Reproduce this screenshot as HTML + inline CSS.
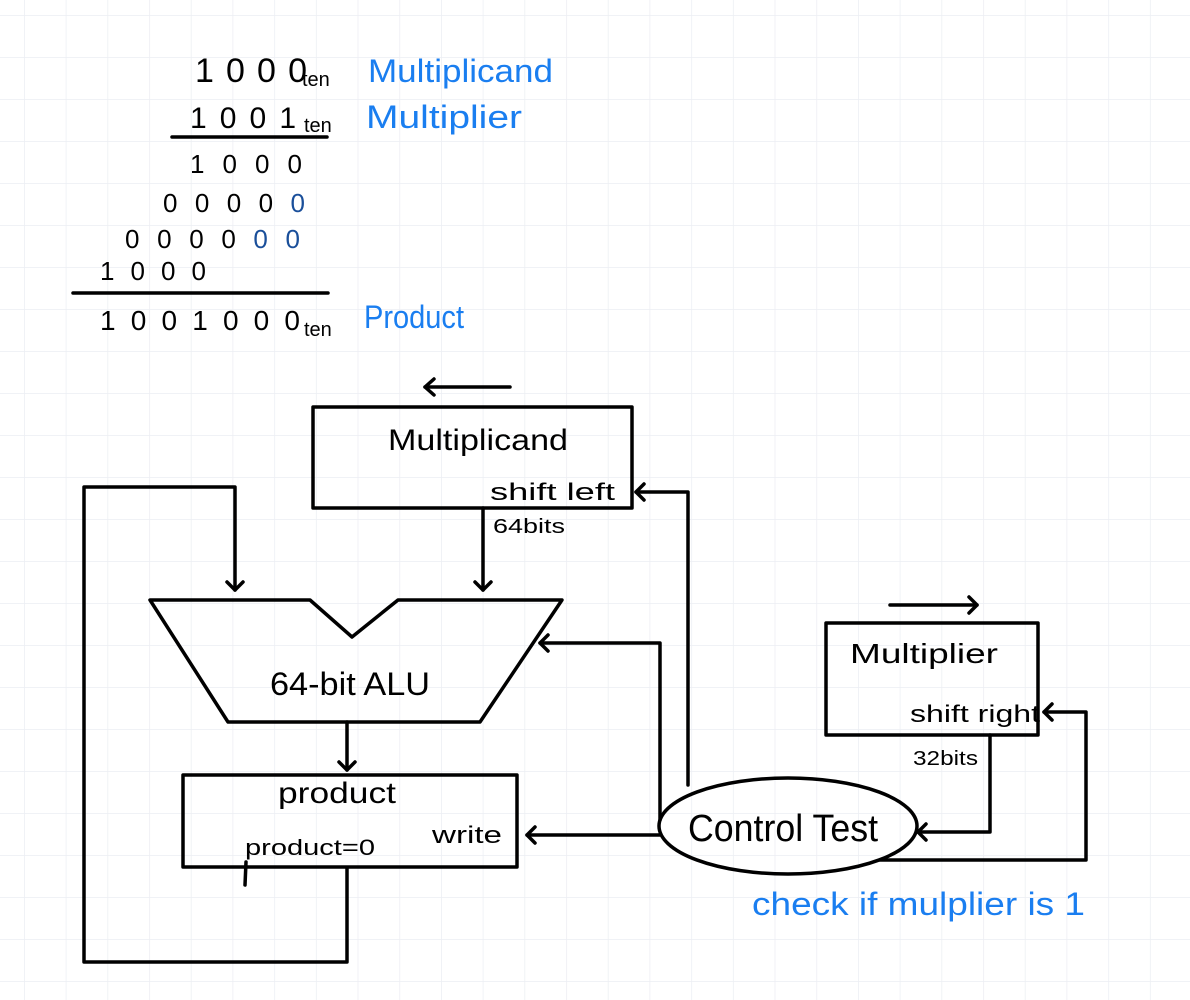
<!DOCTYPE html>
<html><head><meta charset="utf-8"><style>
html,body{margin:0;padding:0;background:#fff}
svg{display:block}
text{font-family:"Liberation Sans",sans-serif}
</style></head><body>
<svg width="1190" height="1000" viewBox="0 0 1190 1000" xmlns="http://www.w3.org/2000/svg">
<defs>
<pattern id="g" x="24" y="15" width="41.7" height="42" patternUnits="userSpaceOnUse">
<path d="M0 0H41.7M0 0V42" stroke="#eceef3" stroke-width="1.5" fill="none"/>
</pattern>
</defs>
<rect width="1190" height="1000" fill="url(#g)"/>

<g font-size="34" fill="#000">
<text x="195" y="82" textLength="112" lengthAdjust="spacing">1000</text>
<text x="190" y="128" font-size="30" textLength="106" lengthAdjust="spacing">1001</text>
<text x="190" y="173" font-size="26" textLength="112" lengthAdjust="spacing">1000</text>
<text x="163" y="212" font-size="26" textLength="142" lengthAdjust="spacing">0000<tspan fill="#1a4f9a">0</tspan></text>
<text x="125" y="248" font-size="26" textLength="175" lengthAdjust="spacing">0000<tspan fill="#1a4f9a">00</tspan></text>
<text x="100" y="280" font-size="26" textLength="106" lengthAdjust="spacing">1000</text>
<text x="100" y="330" font-size="28" textLength="200" lengthAdjust="spacing">1001000</text>
</g>
<g font-size="20" fill="#000">
<text x="302" y="86">ten</text>
<text x="304" y="132">ten</text>
<text x="304" y="336">ten</text>
</g>
<g fill="#1a7ef0" font-size="32">
<text x="368" y="82" textLength="185" lengthAdjust="spacingAndGlyphs">Multiplicand</text>
<text x="366" y="128" textLength="156" lengthAdjust="spacingAndGlyphs">Multiplier</text>
<text x="364" y="328" textLength="100" lengthAdjust="spacingAndGlyphs">Product</text>
<text x="752" y="915" textLength="333" lengthAdjust="spacingAndGlyphs">check if mulplier is 1</text>
</g>
<g stroke="#000" stroke-width="3.5" fill="none" stroke-linecap="round" stroke-linejoin="round">
<line x1="172" y1="137" x2="327" y2="137"/>
<line x1="73" y1="293" x2="328" y2="293"/>
<line x1="425" y1="387" x2="510" y2="387"/><polyline points="434,379 425,387 434,395"/>
<rect x="313" y="407" width="319" height="101"/>
<line x1="483" y1="508" x2="483" y2="590"/><polyline points="475,582 483,590 491,582"/>
<polygon points="150,600 310,600 352,637 398,600 562,600 480,722 228,722"/>
<polyline points="347,868 347,962 84,962 84,487 235,487 235,590"/><polyline points="227,582 235,590 243,582"/>
<line x1="347" y1="722" x2="347" y2="770"/><polyline points="339,762 347,770 355,762"/>
<rect x="183" y="775" width="334" height="92"/>
<line x1="246" y1="862" x2="245" y2="885"/>
<ellipse cx="788" cy="826" rx="129" ry="48"/>
<line x1="660" y1="835" x2="527" y2="835"/><polyline points="535,827 527,835 535,843"/>
<polyline points="660,820 660,643 540,643"/><polyline points="548,635 540,643 548,651"/>
<polyline points="688,785 688,492 636,492"/><polyline points="644,484 636,492 644,500"/>
<line x1="890" y1="605" x2="977" y2="605"/><polyline points="969,597 977,605 969,613"/>
<rect x="826" y="623" width="212" height="112"/>
<polyline points="990,735 990,832 918,832"/><polyline points="926,824 918,832 926,840"/>
<polyline points="880,860 1086,860 1086,712 1044,712"/><polyline points="1052,704 1044,712 1052,720"/>
</g>
<g fill="#000">
<text x="388" y="450" font-size="30" textLength="180" lengthAdjust="spacingAndGlyphs">Multiplicand</text>
<text x="490" y="500" font-size="24" textLength="125" lengthAdjust="spacingAndGlyphs">shift left</text>
<text x="493" y="533" font-size="20" textLength="72" lengthAdjust="spacingAndGlyphs">64bits</text>
<text x="270" y="695" font-size="32" textLength="160" lengthAdjust="spacingAndGlyphs">64-bit ALU</text>
<text x="278" y="803" font-size="30" textLength="118" lengthAdjust="spacingAndGlyphs">product</text>
<text x="245" y="855" font-size="22" textLength="130" lengthAdjust="spacingAndGlyphs">product=0</text>
<text x="432" y="843" font-size="24" textLength="70" lengthAdjust="spacingAndGlyphs">write</text>
<text x="850" y="663" font-size="28" textLength="148" lengthAdjust="spacingAndGlyphs">Multiplier</text>
<text x="910" y="722" font-size="24" textLength="130" lengthAdjust="spacingAndGlyphs">shift right</text>
<text x="913" y="765" font-size="20" textLength="65" lengthAdjust="spacingAndGlyphs">32bits</text>
<text x="688" y="841" font-size="38" textLength="190" lengthAdjust="spacingAndGlyphs">Control Test</text>
</g>
</svg>
</body></html>
